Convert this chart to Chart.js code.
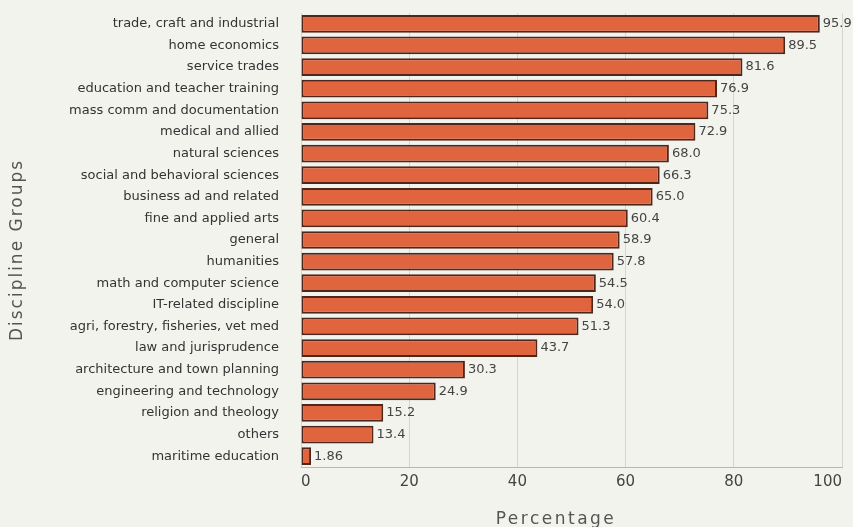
<!DOCTYPE html>
<html>
<head>
<meta charset="utf-8">
<script src="https://cdn.jsdelivr.net/npm/chart.js@4/dist/chart.umd.min.js"></script>
<style>
  html, body { margin: 0; padding: 0; background: #f3f3ee; }
  #wrap { width: 853px; height: 527px; position: relative; }
</style>
</head>
<body>
<div id="wrap"><canvas id="disciplineChart"></canvas></div>
<script>
const disciplines = [
  "trade, craft and industrial", "home economics", "service trades",
  "education and teacher training", "mass comm and documentation", "medical and allied",
  "natural sciences", "social and behavioral sciences", "business ad and related",
  "fine and applied arts", "general", "humanities", "math and computer science",
  "IT-related discipline", "agri, forestry, fisheries, vet med", "law and jurisprudence",
  "architecture and town planning", "engineering and technology", "religion and theology",
  "others", "maritime education"
];
const percentages = [95.9, 89.5, 81.6, 76.9, 75.3, 72.9, 68.0, 66.3, 65.0, 60.4, 58.9,
  57.8, 54.5, 54.0, 51.3, 43.7, 30.3, 24.9, 15.2, 13.4, 1.86];
const valueLabels = ["95.9", "89.5", "81.6", "76.9", "75.3", "72.9", "68.0", "66.3", "65.0",
  "60.4", "58.9", "57.8", "54.5", "54.0", "51.3", "43.7", "30.3", "24.9", "15.2", "13.4", "1.86"];
const xTicks = [0, 20, 40, 60, 80, 100];
const xTitle = "Percentage";
const yTitle = "Discipline Groups";

// page background
const bgPlugin = {
  id: "bg",
  beforeDraw(chart) {
    const c = chart.ctx;
    c.save();
    c.fillStyle = "#f3f3ee";
    c.fillRect(0, 0, chart.width, chart.height);
    c.restore();
  }
};

// numbers at the end of each bar
const valuePlugin = {
  id: "values",
  afterDatasetsDraw(chart) {
    const c = chart.ctx;
    const meta = chart.getDatasetMeta(0);
    c.save();
    c.font = "13px 'DejaVu Sans'";
    c.fillStyle = "#444";
    c.textBaseline = "middle";
    meta.data.forEach((bar, i) => {
      c.fillText(valueLabels[i], bar.x + 3, bar.y);
    });
    c.restore();
  }
};

// axis titles, drawn with a little letter spacing like the original
const titlePlugin = {
  id: "titles",
  afterDraw(chart) {
    const c = chart.ctx;
    const area = chart.chartArea;
    c.save();
    c.font = "17px 'DejaVu Sans'";
    c.fillStyle = "#555";
    c.textAlign = "center";
    c.textBaseline = "middle";
    c.letterSpacing = "2.5px";
    c.fillText(xTitle, 556, 520);
    c.letterSpacing = "2px";
    c.translate(18, 250);
    c.rotate(-Math.PI / 2);
    c.fillText(yTitle, 0, 0);
    c.restore();
  }
};

const ctx = document.getElementById("disciplineChart").getContext("2d");
new Chart(ctx, {
  type: "bar",
  data: {
    labels: disciplines,
    datasets: [{
      data: percentages,
      backgroundColor: "#e0643e",
      borderColor: "#4e261a",
      borderWidth: 2,
      borderSkipped: false,
      categoryPercentage: 0.82,
      barPercentage: 1.0
    }]
  },
  options: {
    indexAxis: "y",
    responsive: true,
    maintainAspectRatio: false,
    animation: false,
    layout: { padding: { top: 13, right: 11, left: 0, bottom: 0 } },
    plugins: {
      legend: { display: false },
      tooltip: { enabled: false }
    },
    scales: {
      x: {
        min: 0,
        max: 100,
        afterBuildTicks: scale => { scale.ticks = xTicks.map(v => ({ value: v })); },
        afterFit: scale => {
          scale.height = 60;
          scale.paddingLeft = 0;
          scale.paddingRight = 0;
        },
        grid: { color: "#d6d6ce", drawTicks: false },
        border: { color: "#b8b8b0" },
        ticks: { color: "#444", font: { size: 15, family: "'DejaVu Sans'" }, padding: 6, align: "inner" }
      },
      y: {
        afterFit: scale => {
          scale.width = 301;
          scale.paddingTop = 0;
          scale.paddingBottom = 0;
        },
        grid: { display: false, drawTicks: false },
        border: { display: false },
        ticks: { color: "#333", font: { size: 13, family: "'DejaVu Sans'" }, padding: 22, autoSkip: false }
      }
    }
  },
  plugins: [bgPlugin, valuePlugin, titlePlugin]
});
</script>
</body>
</html>
